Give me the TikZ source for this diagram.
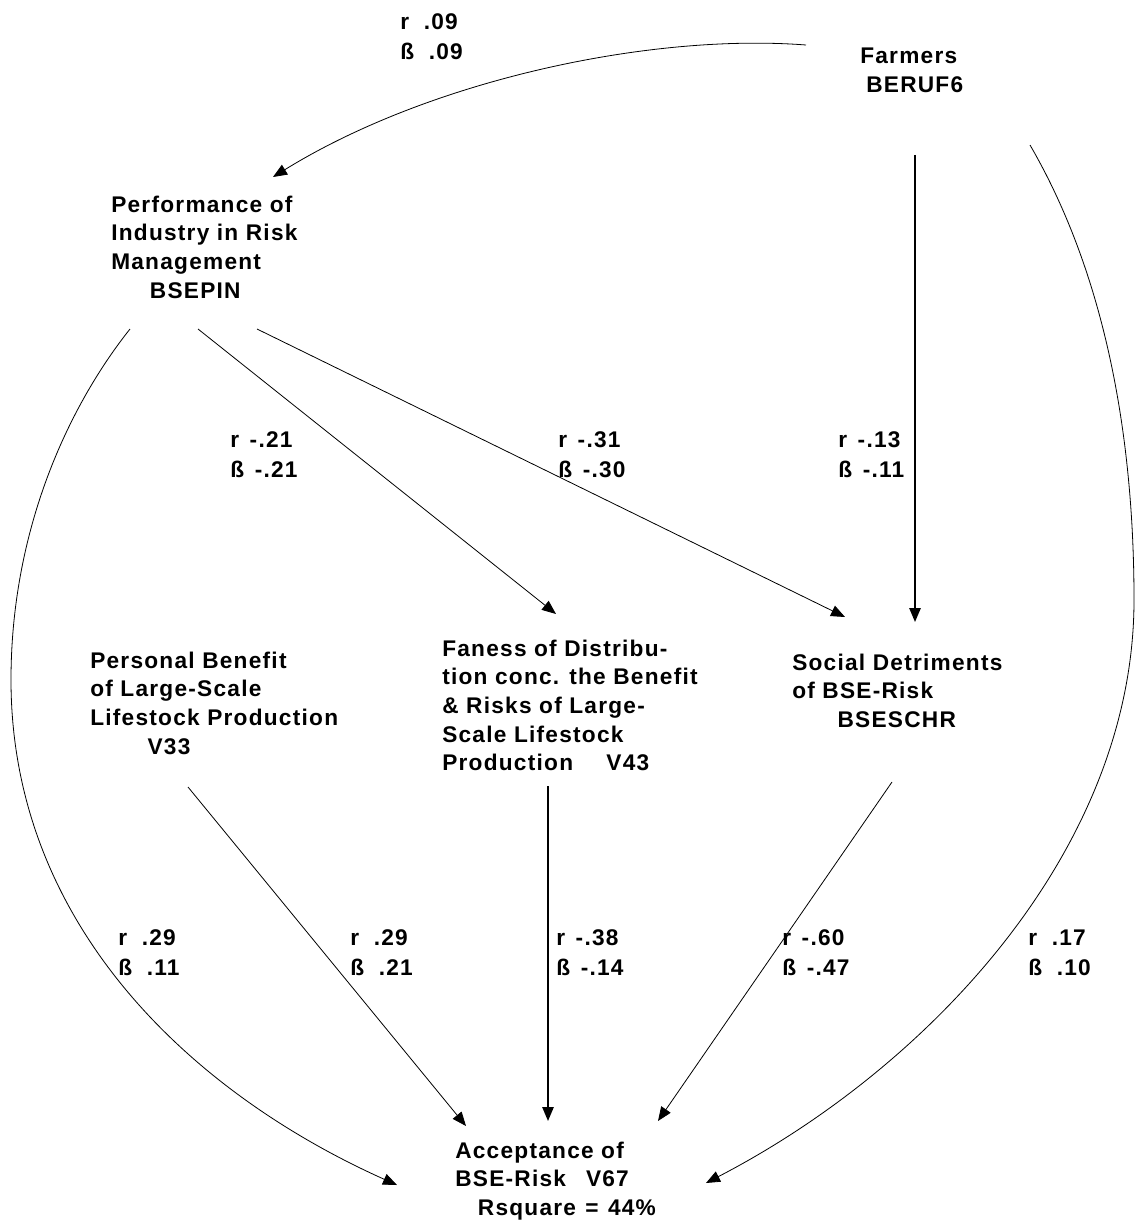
\documentclass[tikz,border=0pt]{standalone}
\usepackage{fontspec}
\newfontfamily\lab{Liberation Sans}[LetterSpace=5.5]
\usetikzlibrary{arrows.meta}
\newcommand{\blk}[1]{\begin{tabular}[t]{@{}l@{}}#1\end{tabular}}
\begin{document}
\begin{tikzpicture}[x=0.75pt,y=-0.75pt,
  txt/.style={anchor=base west,inner sep=0pt,
    font=\lab\bfseries\fontsize{17pt}{21.5pt}\selectfont},
  coef/.style={anchor=base west,inner sep=0pt,
    font=\lab\bfseries\fontsize{17pt}{22.5pt}\selectfont},
  thin/.style={line width=0.6pt,-{Triangle[length=10.5pt,width=8.5pt]}},
  thick/.style={line width=1.3pt,-{Triangle[length=10.5pt,width=8.5pt]}}]
\useasboundingbox (0,0) rectangle (1135,1220);
\fill[white] (0,0) rectangle (1135,1220);

% variables
\node[txt] (farm) at (860,64) {\blk{Farmers\\\hspace*{4.5pt}BERUF6}};
\node[txt] (perf) at (111,212) {\blk{Performance of\\Industry in Risk\\Management\\\hspace*{29pt}BSEPIN}};
\node[txt] (pers) at (90,668) {\blk{Personal Benefit\\of Large-Scale\\Lifestock Production\\\hspace*{43pt}V33}};
\node[txt] (fair) at (442,656) {\blk{Faness of Distribu-\\tion conc. the Benefit\\\& Risks of Large-\\Scale Lifestock\\Production\hspace{25pt}V43}};
\node[txt] (soc) at (792,670) {\blk{Social Detriments\\of BSE-Risk\\\hspace*{34pt}BSESCHR}};
\node[txt] (acc) at (455,1158) {\blk{Acceptance of\\BSE-Risk\hspace{15pt}V67\\\hspace*{17pt}Rsquare\hspace{7pt}=\hspace{7pt}44\%}};

% path coefficients
\node[coef] (c09) at (400,30) {\blk{r\hspace{11pt}.09\\ß\hspace{11pt}.09}};
\node[coef] (c21) at (230,447) {\blk{r\hspace{8pt}-.21\\ß\hspace{8pt}-.21}};
\node[coef] (c31) at (558,447) {\blk{r\hspace{8pt}-.31\\ß\hspace{8pt}-.30}};
\node[coef] (c13) at (838,447) {\blk{r\hspace{8pt}-.13\\ß\hspace{8pt}-.11}};
\node[coef] (c29a) at (118,945) {\blk{r\hspace{11pt}.29\\ß\hspace{11pt}.11}};
\node[coef] (c29b) at (350,945) {\blk{r\hspace{11pt}.29\\ß\hspace{11pt}.21}};
\node[coef] (c38) at (556,945) {\blk{r\hspace{8pt}-.38\\ß\hspace{8pt}-.14}};
\node[coef] (c60) at (782,945) {\blk{r\hspace{8pt}-.60\\ß\hspace{8pt}-.47}};
\node[coef] (c17) at (1028,945) {\blk{r\hspace{11pt}.17\\ß\hspace{11pt}.10}};

% connector ends
\coordinate (farmA) at (806,45);
\coordinate (farmB) at (915,155);
\coordinate (farmC) at (1030,145);
\coordinate (perfIn) at (273,177);
\coordinate (perfA) at (130,329);
\coordinate (perfB) at (198,329);
\coordinate (perfC) at (257,329);
\coordinate (fairIn) at (556,614);
\coordinate (socIn) at (845,617);
\coordinate (socInV) at (915,622);
\coordinate (persOut) at (188,787);
\coordinate (fairOut) at (548,786);
\coordinate (socOut) at (892,782);
\coordinate (accA) at (397,1185);
\coordinate (accB) at (466,1126);
\coordinate (accC) at (548,1121);
\coordinate (accD) at (658,1121);
\coordinate (accE) at (706,1183);

% paths
\draw[thin] (farmA) .. controls (650,33) and (430,80) .. (perfIn);
\draw[thick] (farmB) -- (socInV);
\draw[thin] (farmC) .. controls (1110,283) and (1134,450) .. (1134,600)
  .. controls (1134,850) and (928,1068) .. (accE);
\draw[thin] (perfA) .. controls (68,407) and (11,530) .. (11,680)
  .. controls (11,920) and (185,1090) .. (accA);
\draw[thin] (perfB) -- (fairIn);
\draw[thin] (perfC) -- (socIn);
\draw[thin] (persOut) -- (accB);
\draw[thick] (fairOut) -- (accC);
\draw[thin] (socOut) -- (accD);
\end{tikzpicture}
\end{document}
